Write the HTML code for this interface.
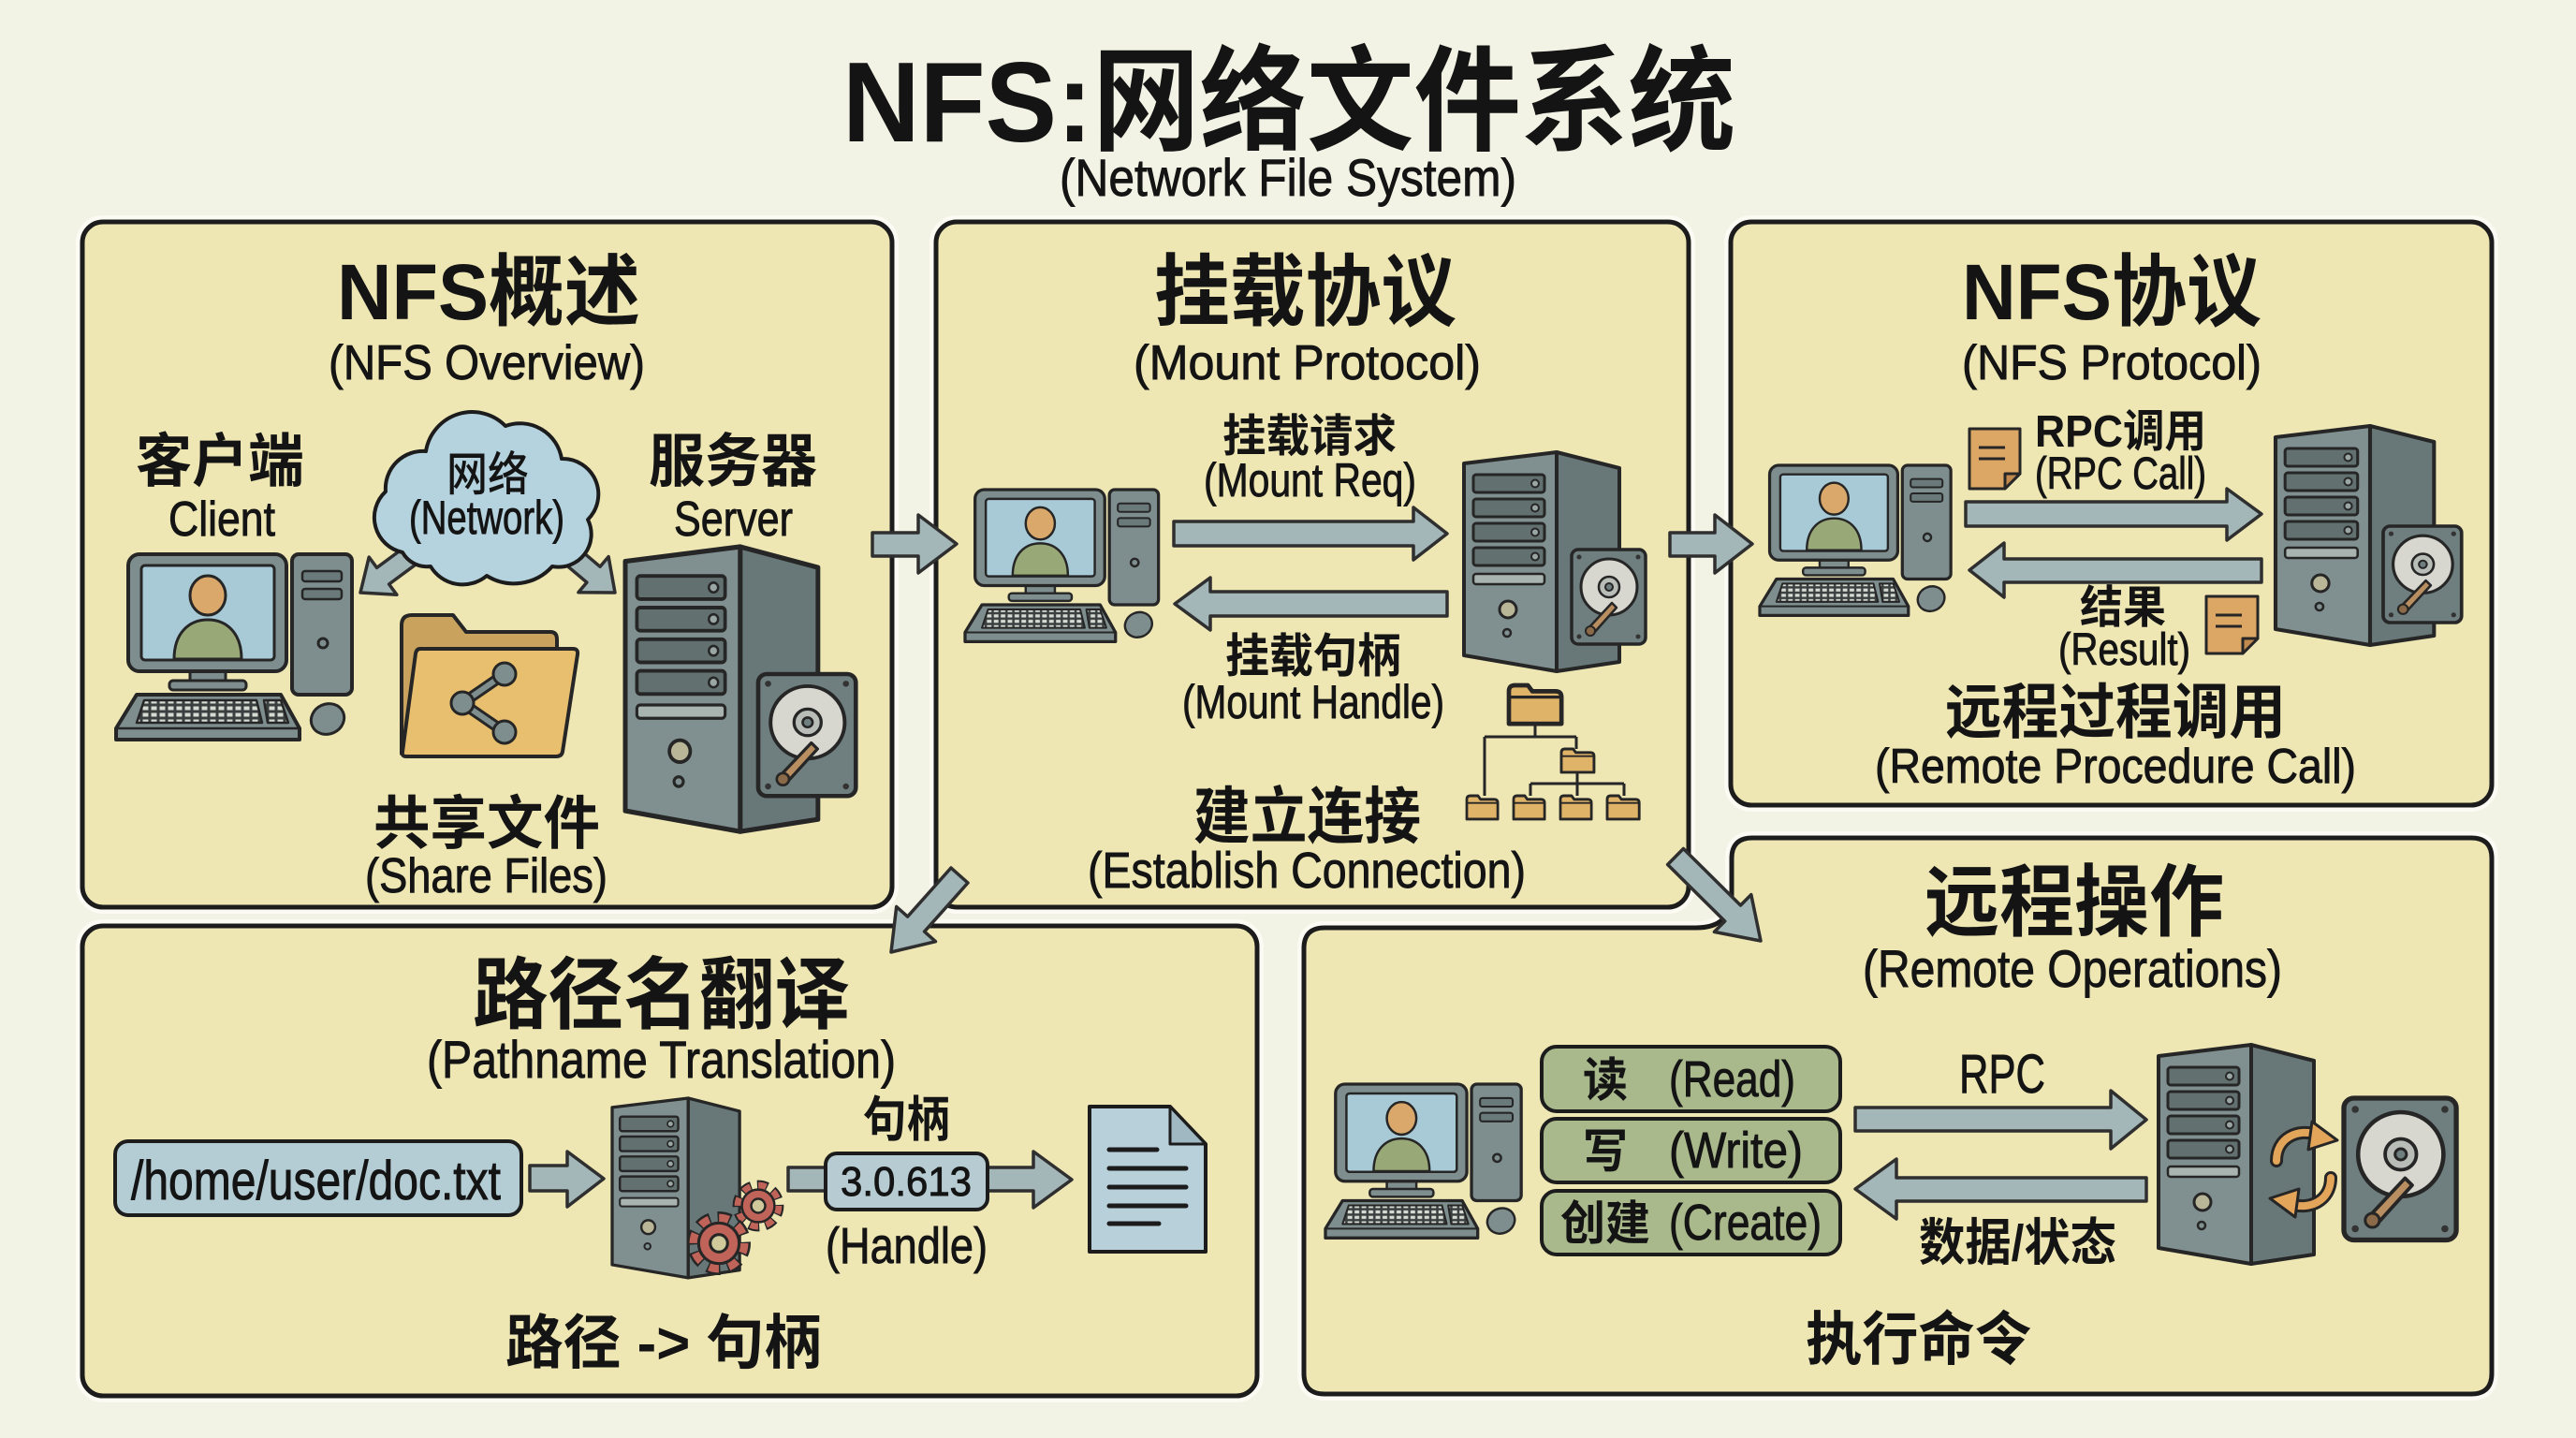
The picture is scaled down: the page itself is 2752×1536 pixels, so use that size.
<!DOCTYPE html>
<html><head><meta charset="utf-8"><style>
html,body{margin:0;padding:0;background:#f2f3e4;}
svg{display:block}
.t{font-family:"Liberation Sans","Noto Sans CJK SC",sans-serif;fill:#141414}
.n{stroke:#141414;stroke-width:0.9px}
.b{font-weight:700}
</style></head><body>
<svg width="2752" height="1536" viewBox="0 0 2752 1536" xmlns="http://www.w3.org/2000/svg">
<defs>
<pattern id="kp" width="9" height="7" patternUnits="userSpaceOnUse"><rect width="9" height="7" fill="#3a3f3f"/><rect x="1.5" y="1.5" width="6" height="4" fill="#d6dbd3"/></pattern>
<g id="pc" stroke="#262626" stroke-linejoin="round">
 <rect x="188" y="0" width="64" height="150" rx="7" fill="#7e8e8e" stroke-width="4"/>
 <rect x="199" y="18" width="42" height="11" rx="3" fill="#6a7979" stroke-width="2.5"/>
 <rect x="199" y="37" width="42" height="11" rx="3" fill="#6a7979" stroke-width="2.5"/>
 <circle cx="221" cy="95" r="5" fill="none" stroke-width="3"/>
 <rect x="79" y="124" width="38" height="13" fill="#7e8e8e" stroke-width="3"/>
 <rect x="57" y="135" width="82" height="10" rx="4" fill="#7e8e8e" stroke-width="3"/>
 <rect x="13" y="0" width="169" height="125" rx="12" fill="#7e8e8e" stroke-width="4"/>
 <rect x="27" y="12" width="142" height="101" rx="4" fill="#a8cad6" stroke-width="3"/>
 <path d="M62 112 C62 84 78 70 98 70 C118 70 134 84 134 112 Z" fill="#98a876" stroke-width="3"/>
 <ellipse cx="98" cy="44" rx="19" ry="21" fill="#dba86b" stroke-width="3"/>
 <path d="M22 150 L176 150 L196 186 L196 198 L0 198 L0 186 Z" fill="#7e8e8e" stroke-width="4"/>
 <path d="M0 186 L196 186" fill="none" stroke-width="2.5"/>
 <path d="M30 156 L150 156 L156 180 L22 180 Z" fill="url(#kp)" stroke-width="2.5"/>
 <path d="M158 156 L176 156 L184 180 L162 180 Z" fill="url(#kp)" stroke-width="2.5"/>
 <ellipse cx="226" cy="176" rx="18" ry="16" fill="#7e8e8e" stroke-width="3" transform="rotate(-25 226 176)"/>
</g>
<g id="srv" stroke="#262626" stroke-linejoin="round">
 <path d="M99 0 L166 17 L166 224 L99 234 Z" fill="#687878" stroke-width="4"/>
 <path d="M0 12 L99 0 L99 234 L0 217 Z" fill="#808f8f" stroke-width="4"/>
 <rect x="10" y="24" width="76" height="19" rx="3" fill="#627170" stroke-width="3"/><circle cx="76" cy="33.5" r="4" fill="#9aa6a4" stroke-width="2"/>
 <rect x="10" y="50" width="76" height="19" rx="3" fill="#627170" stroke-width="3"/><circle cx="76" cy="59.5" r="4" fill="#9aa6a4" stroke-width="2"/>
 <rect x="10" y="76" width="76" height="19" rx="3" fill="#627170" stroke-width="3"/><circle cx="76" cy="85.5" r="4" fill="#9aa6a4" stroke-width="2"/>
 <rect x="10" y="102" width="76" height="19" rx="3" fill="#627170" stroke-width="3"/><circle cx="76" cy="111.5" r="4" fill="#9aa6a4" stroke-width="2"/>
 <rect x="10" y="130" width="76" height="11" rx="3" fill="#a9b4b0" stroke-width="2.5"/>
 <circle cx="47" cy="168" r="9" fill="#b9b697" stroke-width="3"/>
 <circle cx="46" cy="193" r="4" fill="none" stroke-width="2.5"/>
</g>
<g id="hdd" stroke="#262626" stroke-linejoin="round">
 <rect x="0" y="0" width="79" height="101" rx="7" fill="#6f7e7e" stroke-width="3.5"/>
 <circle cx="8" cy="8" r="2.5" fill="#333" stroke="none"/><circle cx="71" cy="8" r="2.5" fill="#333" stroke="none"/>
 <circle cx="8" cy="93" r="2.5" fill="#333" stroke="none"/><circle cx="71" cy="93" r="2.5" fill="#333" stroke="none"/>
 <circle cx="40" cy="40" r="30" fill="#d7d7d0" stroke-width="3"/>
 <circle cx="40" cy="40" r="11" fill="#b9bdb8" stroke-width="2.5"/>
 <circle cx="40" cy="40" r="4" fill="#6f7e7e" stroke-width="2"/>
 <path d="M17 85 L43 57 L48 62 L23 90 Z" fill="#b98e60" stroke-width="2.5"/>
 <circle cx="20" cy="87" r="5" fill="#8a6a48" stroke-width="2"/>
</g>
<g id="fld"><path d="M0 4 Q0 0 4 0 L13 0 L16 4 L32 4 Q36 4 36 8 L36 26 L0 26 Z" fill="#e0b468" stroke="#262626" stroke-width="3" stroke-linejoin="round"/><path d="M0 8 L36 8" stroke="#262626" stroke-width="2"/></g>
<g id="gear">
 <circle r="26" fill="none" stroke="#262626" stroke-width="14" stroke-dasharray="13 7.42" stroke-dashoffset="1.5"/>
 <circle r="26" fill="none" stroke="#c0645a" stroke-width="9" stroke-dasharray="10 10.42"/>
 <circle r="21" fill="#c0645a" stroke="#262626" stroke-width="3"/>
 <circle r="9" fill="#cfc99c" stroke="#262626" stroke-width="3"/>
</g>
</defs>

<rect width="2752" height="1536" fill="#f2f3e4"/>

<!-- Panels -->
<g fill="none" stroke="#fbfbf4" stroke-width="14">
 <rect x="88" y="237" width="865" height="732" rx="22"/>
 <rect x="1000" y="237" width="804" height="732" rx="22"/>
 <rect x="1849" y="237" width="813" height="623" rx="22"/>
 <rect x="88" y="989" width="1255" height="502" rx="22"/>
 <path d="M1415 991 L1812 991 Q1850 991 1850 955 L1850 917 Q1850 895 1872 895 L2640 895 Q2662 895 2662 917 L2662 1467 Q2662 1489 2640 1489 L1415 1489 Q1393 1489 1393 1467 L1393 1013 Q1393 991 1415 991 Z"/>
</g>
<g fill="#eee7b4" stroke="#1c1c1c" stroke-width="5">
 <rect x="88" y="237" width="865" height="732" rx="22"/>
 <rect x="1000" y="237" width="804" height="732" rx="22"/>
 <rect x="1849" y="237" width="813" height="623" rx="22"/>
 <rect x="88" y="989" width="1255" height="502" rx="22"/>
 <path d="M1415 991 L1812 991 Q1850 991 1850 955 L1850 917 Q1850 895 1872 895 L2640 895 Q2662 895 2662 917 L2662 1467 Q2662 1489 2640 1489 L1415 1489 Q1393 1489 1393 1467 L1393 1013 Q1393 991 1415 991 Z"/>
</g>

<!-- Arrows -->
<g fill="#a3b6b8" stroke="#2f2f2f" stroke-width="3.5" stroke-linejoin="round">
 <polygon points="932,569 981,569 981,550 1022,581 981,612 981,594 932,594"/>
 <polygon points="1784,569 1832,569 1832,550 1872,581 1832,612 1832,594 1784,594"/>
 <polygon points="1016,927 969.6,979.1 957.7,968.5 952,1017 999.5,1005.7 987.6,995.1 1034,943"/>
 <polygon points="1798.4,906.5 1859.5,967 1870.8,955.6 1881,1005 1831.4,995.4 1842.7,984 1781.6,923.5"/>
 <polygon points="443.5,576.2 402.6,606.4 394.2,595.1 385,633 423.9,635.3 415.6,624 456.5,593.8"/>
 <polygon points="607.1,576.6 641.1,605.3 650.1,594.6 657,633 617.9,632.8 626.9,622.1 592.9,593.4"/>
 <polygon points="1254,557 1510,557 1510,542 1546,570 1510,598 1510,583 1254,583"/>
 <polygon points="1546,632 1293,632 1293,617 1255,645 1293,673 1293,658 1546,658"/>
 <polygon points="2100,536 2379,536 2379,522 2416,549 2379,577 2379,562 2100,562"/>
 <polygon points="2416,597 2141,597 2141,580 2104,609 2141,638 2141,622 2416,622"/>
 <polygon points="1982,1183 2255,1183 2255,1165 2293,1196 2255,1227 2255,1208 1982,1208"/>
 <polygon points="2293,1258 2026,1258 2026,1238 1982,1270 2026,1302 2026,1283 2293,1283"/>
 <polygon points="566,1245 606,1245 606,1230 645,1259 606,1289 606,1272 566,1272"/>
 <polygon points="842,1247 1104,1247 1104,1230 1145,1260 1104,1290 1104,1272 842,1272"/>
</g>

<!-- Cloud -->
<path d="M430 590 A38 38 0 0 1 412 525 A40 40 0 0 1 455 482 A50 50 0 0 1 540 455 A45 45 0 0 1 600 490 A38 38 0 0 1 628 555 A35 35 0 0 1 590 605 A55 55 0 0 1 520 615 A40 40 0 0 1 460 605 A30 30 0 0 1 430 590 Z" fill="#b5d3de" stroke="#1c1c1c" stroke-width="4" stroke-linejoin="round"/>

<!-- P1 icons -->
<use href="#pc" transform="translate(124,592)"/>
<path d="M429 668 Q429 657 440 657 L484 657 L498 675 L588 675 Q595 675 595 683 L595 805 L429 805 Z" fill="#c9a35e" stroke="#262626" stroke-width="4" stroke-linejoin="round"/>
<path d="M449 693 L612 693 Q618 693 617 699 L601 803 Q600 808 594 808 L434 808 Q429 808 430 803 L444 698 Q445 693 449 693 Z" fill="#e8bf6e" stroke="#262626" stroke-width="4" stroke-linejoin="round"/>
<path d="M539 720 L494 751 L539 782" fill="none" stroke="#262626" stroke-width="12" stroke-linejoin="round"/>
<path d="M539 720 L494 751 L539 782" fill="none" stroke="#7e8e8e" stroke-width="6" stroke-linejoin="round"/>
<g fill="#7e8e8e" stroke="#262626" stroke-width="3"><circle cx="539" cy="720" r="12"/><circle cx="494" cy="751" r="12"/><circle cx="539" cy="782" r="12"/></g>
<use href="#srv" transform="translate(668,584) scale(1.24,1.3)"/>
<use href="#hdd" transform="translate(810,720) scale(1.32,1.29)"/>

<!-- P2 icons -->
<use href="#pc" transform="translate(1031,523) scale(0.82)"/>
<use href="#srv" transform="translate(1564,483)"/>
<use href="#hdd" transform="translate(1679,587)"/>
<g fill="none" stroke="#262626" stroke-width="3">
 <path d="M1640 773 L1640 787 M1586 787 L1684 787 M1586 787 L1586 850 M1684 787 L1684 800 M1685 825 L1685 837 M1635 837 L1735 837 M1635 837 L1635 850 M1685 837 L1685 850 M1735 837 L1735 850"/>
</g>
<use href="#fld" transform="translate(1612,732) scale(1.56,1.58)"/>
<use href="#fld" transform="translate(1668,800) scale(0.97,0.96)"/>
<use href="#fld" transform="translate(1567,850) scale(0.92,0.96)"/>
<use href="#fld" transform="translate(1617,850) scale(0.92,0.96)"/>
<use href="#fld" transform="translate(1667,850) scale(0.92,0.96)"/>
<use href="#fld" transform="translate(1717,850) scale(0.95,0.96)"/>

<!-- P3 icons -->
<use href="#pc" transform="translate(1880,497) scale(0.81)"/>
<use href="#srv" transform="translate(2431,455) scale(1.02,1.0)"/>
<use href="#hdd" transform="translate(2546,562) scale(1.06,1.02)"/>
<g stroke="#262626" stroke-width="3" stroke-linejoin="round">
 <path d="M2104 458 H2158 V506 L2142 522 H2104 Z" fill="#dca765"/>
 <path d="M2158 506 H2142 V522 Z" fill="#c28a4f"/>
 <path d="M2114 478 H2142 M2114 490 H2142" fill="none"/>
 <path d="M2357 637 H2412 V682 L2396 698 H2357 Z" fill="#dca765"/>
 <path d="M2412 682 H2396 V698 Z" fill="#c28a4f"/>
 <path d="M2367 657 H2395 M2367 669 H2395" fill="none"/>
</g>

<!-- P4 icons -->
<rect x="123" y="1219" width="434" height="79" rx="14" fill="#b4ccd4" stroke="#1c1c1c" stroke-width="4"/>
<use href="#srv" transform="translate(654,1173) scale(0.82,0.82)"/>
<use href="#gear" transform="translate(810,1288) scale(0.83)"/>
<use href="#gear" transform="translate(768,1328) scale(1.03)"/>
<rect x="882" y="1232" width="173" height="60" rx="12" fill="#b6ccd2" stroke="#1c1c1c" stroke-width="4"/>
<path d="M1164 1182 H1250 L1288 1222 V1337 H1164 Z" fill="#b7d0da" stroke="#1c1c1c" stroke-width="4" stroke-linejoin="round"/>
<path d="M1250 1182 V1222 H1288 Z" fill="#9fb8c2" stroke="#1c1c1c" stroke-width="3" stroke-linejoin="round"/>
<g stroke="#1c1c1c" stroke-width="5" stroke-linecap="round">
 <path d="M1185 1228 H1236 M1185 1248 H1267 M1185 1268 H1267 M1185 1288 H1267 M1185 1307 H1238"/>
</g>

<!-- P5 icons -->
<use href="#pc" transform="translate(1416,1158) scale(0.83)"/>
<g fill="#a9b98c" stroke="#1c1c1c" stroke-width="4">
 <rect x="1647" y="1118" width="319" height="69" rx="16"/>
 <rect x="1647" y="1195" width="319" height="68" rx="16"/>
 <rect x="1647" y="1272" width="319" height="68" rx="16"/>
</g>
<use href="#srv" transform="translate(2306,1116)"/>
<use href="#hdd" transform="translate(2504,1173) scale(1.52,1.5)"/>
<g fill="none" stroke-linecap="round">
 <path d="M2432 1240 C2432 1215 2455 1205 2476 1212" stroke="#262626" stroke-width="14"/>
 <path d="M2432 1240 C2432 1215 2455 1205 2476 1212" stroke="#e3a55a" stroke-width="8"/>
 <path d="M2490 1258 C2490 1283 2467 1293 2446 1286" stroke="#262626" stroke-width="14"/>
 <path d="M2490 1258 C2490 1283 2467 1293 2446 1286" stroke="#e3a55a" stroke-width="8"/>
</g>
<g fill="#e3a55a" stroke="#262626" stroke-width="3" stroke-linejoin="round">
 <polygon points="2470,1198 2497,1218 2466,1228"/>
 <polygon points="2452,1300 2425,1280 2456,1270"/>
</g>

<!-- Text -->
<text class="t b" x="900" y="151" font-size="122" textLength="954" lengthAdjust="spacingAndGlyphs">NFS:网络文件系统</text>
<text class="t n" x="1132" y="209" font-size="56" textLength="488" lengthAdjust="spacingAndGlyphs">(Network File System)</text>

<text class="t b" x="360" y="341" font-size="84" textLength="324" lengthAdjust="spacingAndGlyphs">NFS概述</text>
<text class="t n" x="351" y="405" font-size="52" textLength="338" lengthAdjust="spacingAndGlyphs">(NFS Overview)</text>
<text class="t b" x="145" y="514" font-size="62" textLength="180" lengthAdjust="spacingAndGlyphs">客户端</text>
<text class="t n" x="180" y="572" font-size="52" textLength="114" lengthAdjust="spacingAndGlyphs">Client</text>
<text class="t" x="477" y="524" font-size="50" font-weight="500" textLength="88" lengthAdjust="spacingAndGlyphs">网络</text>
<text class="t n" x="437" y="570" font-size="50" textLength="166" lengthAdjust="spacingAndGlyphs">(Network)</text>
<text class="t b" x="693" y="514" font-size="62" textLength="180" lengthAdjust="spacingAndGlyphs">服务器</text>
<text class="t n" x="720" y="572" font-size="52" textLength="127" lengthAdjust="spacingAndGlyphs">Server</text>
<text class="t b" x="399" y="901" font-size="62" textLength="242" lengthAdjust="spacingAndGlyphs">共享文件</text>
<text class="t n" x="390" y="953" font-size="52" textLength="259" lengthAdjust="spacingAndGlyphs">(Share Files)</text>

<text class="t b" x="1233" y="341" font-size="84" textLength="323" lengthAdjust="spacingAndGlyphs">挂载协议</text>
<text class="t n" x="1211" y="405" font-size="52" textLength="371" lengthAdjust="spacingAndGlyphs">(Mount Protocol)</text>
<text class="t b" x="1306" y="482" font-size="48" textLength="186" lengthAdjust="spacingAndGlyphs">挂载请求</text>
<text class="t n" x="1286" y="530" font-size="50" textLength="227" lengthAdjust="spacingAndGlyphs">(Mount Req)</text>
<text class="t b" x="1309" y="718" font-size="50" textLength="188" lengthAdjust="spacingAndGlyphs">挂载句柄</text>
<text class="t n" x="1263" y="767" font-size="50" textLength="280" lengthAdjust="spacingAndGlyphs">(Mount Handle)</text>
<text class="t b" x="1275" y="895" font-size="66" textLength="243" lengthAdjust="spacingAndGlyphs">建立连接</text>
<text class="t n" x="1162" y="948" font-size="54" textLength="468" lengthAdjust="spacingAndGlyphs">(Establish Connection)</text>

<text class="t b" x="2096" y="341" font-size="84" textLength="320" lengthAdjust="spacingAndGlyphs">NFS协议</text>
<text class="t n" x="2096" y="405" font-size="52" textLength="320" lengthAdjust="spacingAndGlyphs">(NFS Protocol)</text>
<text class="t b" x="2174" y="477" font-size="48" textLength="183" lengthAdjust="spacingAndGlyphs">RPC调用</text>
<text class="t n" x="2174" y="522" font-size="48" textLength="183" lengthAdjust="spacingAndGlyphs">(RPC Call)</text>
<text class="t b" x="2222" y="665" font-size="48" textLength="92" lengthAdjust="spacingAndGlyphs">结果</text>
<text class="t n" x="2199" y="710" font-size="48" textLength="141" lengthAdjust="spacingAndGlyphs">(Result)</text>
<text class="t b" x="2078" y="783" font-size="64" textLength="364" lengthAdjust="spacingAndGlyphs">远程过程调用</text>
<text class="t n" x="2003" y="836" font-size="52" textLength="514" lengthAdjust="spacingAndGlyphs">(Remote Procedure Call)</text>

<text class="t b" x="505" y="1092" font-size="84" textLength="403" lengthAdjust="spacingAndGlyphs">路径名翻译</text>
<text class="t n" x="456" y="1151" font-size="56" textLength="501" lengthAdjust="spacingAndGlyphs">(Pathname Translation)</text>
<text class="t n" x="140" y="1281" font-size="58" textLength="395" lengthAdjust="spacingAndGlyphs">/home/user/doc.txt</text>
<text class="t b" x="922" y="1214" font-size="52" textLength="93" lengthAdjust="spacingAndGlyphs">句柄</text>
<text class="t n" x="898" y="1277" font-size="44" textLength="140" lengthAdjust="spacingAndGlyphs">3.0.613</text>
<text class="t n" x="882" y="1349" font-size="54" textLength="173" lengthAdjust="spacingAndGlyphs">(Handle)</text>
<text class="t b" x="540" y="1456" font-size="63" textLength="338" lengthAdjust="spacingAndGlyphs">路径 -&gt; 句柄</text>

<text class="t b" x="2056" y="993" font-size="84" textLength="320" lengthAdjust="spacingAndGlyphs">远程操作</text>
<text class="t n" x="1990" y="1054" font-size="56" textLength="448" lengthAdjust="spacingAndGlyphs">(Remote Operations)</text>
<text class="t b" x="1691" y="1171" font-size="50" textLength="48" lengthAdjust="spacingAndGlyphs">读</text>
<text class="t n" x="1783" y="1171" font-size="54" textLength="135" lengthAdjust="spacingAndGlyphs">(Read)</text>
<text class="t b" x="1691" y="1247" font-size="50" textLength="48" lengthAdjust="spacingAndGlyphs">写</text>
<text class="t n" x="1783" y="1247" font-size="54" textLength="143" lengthAdjust="spacingAndGlyphs">(Write)</text>
<text class="t b" x="1667" y="1324" font-size="50" textLength="96" lengthAdjust="spacingAndGlyphs">创建</text>
<text class="t n" x="1783" y="1324" font-size="54" textLength="163" lengthAdjust="spacingAndGlyphs">(Create)</text>
<text class="t n" x="2093" y="1167" font-size="58" textLength="92" lengthAdjust="spacingAndGlyphs">RPC</text>
<text class="t b" x="2050" y="1346" font-size="54" textLength="211" lengthAdjust="spacingAndGlyphs">数据/状态</text>
<text class="t b" x="1929" y="1452" font-size="62" textLength="241" lengthAdjust="spacingAndGlyphs">执行命令</text>
</svg>
</body></html>
